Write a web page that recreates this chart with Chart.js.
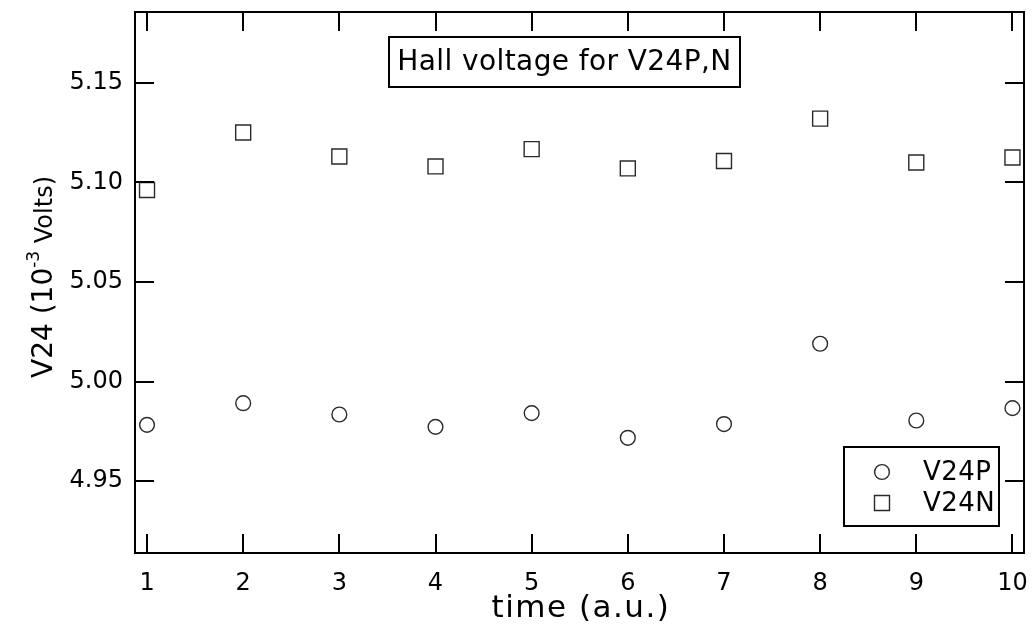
<!DOCTYPE html>
<html>
<head>
<meta charset="utf-8">
<script src="https://cdn.jsdelivr.net/npm/chart.js@4/dist/chart.umd.min.js"></script>
<style>
  html, body { margin: 0; padding: 0; background: #fff; }
  #wrap { width: 1036px; height: 635px; }
</style>
</head>
<body>
<div id="wrap"><canvas id="c" width="1036" height="635"></canvas></div>
<script>
// Measurement index (arbitrary units)
const timePoints = [1, 2, 3, 4, 5, 6, 7, 8, 9, 10];
// Hall voltage, 10^-3 V
const v24p = [4.9783, 4.9892, 4.9835, 4.9773, 4.9842, 4.9718, 4.9787, 5.0190, 4.9805, 4.9867];
const v24n = [5.0962, 5.1250, 5.1130, 5.1080, 5.1167, 5.1070, 5.1107, 5.1320, 5.1100, 5.1125];
const xTickValues = [1, 2, 3, 4, 5, 6, 7, 8, 9, 10];
const yTickValues = [4.95, 5.00, 5.05, 5.10, 5.15];
const seriesNames = ['V24P', 'V24N'];
const chartTitle = 'Hall voltage for V24P,N';
const xTitle = 'time (a.u.)';

const FONT = '"DejaVu Sans", sans-serif';
const INK = '#000';
const MARK = '#2a2a2a';
const R_CIRCLE = 7.4;
const R_RECT = 10.6;

function toPoints(ys) { return timePoints.map((t, i) => ({ x: t, y: ys[i] })); }

function spaced(ctx, px) { if ('letterSpacing' in ctx) ctx.letterSpacing = px + 'px'; }

// Frame, inward ticks on all four sides, title box, legend box, axis titles
const decor = {
  id: 'decor',
  afterDatasetsDraw(chart) {
    const { ctx, chartArea: a, scales } = chart;
    const xs = scales.x, ys = scales.y;
    const tl = 19;
    ctx.save();
    ctx.strokeStyle = INK;
    ctx.lineWidth = 2;
    ctx.beginPath();
    ctx.rect(a.left, a.top, a.right - a.left, a.bottom - a.top);
    xTickValues.forEach(v => {
      const px = Math.round(xs.getPixelForValue(v));
      ctx.moveTo(px, a.bottom); ctx.lineTo(px, a.bottom - tl);
      ctx.moveTo(px, a.top); ctx.lineTo(px, a.top + tl);
    });
    yTickValues.forEach(v => {
      const py = Math.round(ys.getPixelForValue(v));
      ctx.moveTo(a.left, py); ctx.lineTo(a.left + tl, py);
      ctx.moveTo(a.right, py); ctx.lineTo(a.right - tl, py);
    });
    ctx.stroke();

    // Title box
    const bx = 389, by = 37, bw = 351, bh = 50;
    ctx.fillStyle = '#fff';
    ctx.fillRect(bx, by, bw, bh);
    ctx.lineWidth = 2;
    ctx.strokeRect(bx, by, bw, bh);
    ctx.fillStyle = INK;
    ctx.font = '28px ' + FONT;
    spaced(ctx, 0.4);
    ctx.textBaseline = 'middle';
    ctx.textAlign = 'center';
    ctx.fillText(chartTitle, bx + bw / 2, by + bh / 2 + 1);
    spaced(ctx, 0);

    // Legend box
    const lx = 844, ly = 447, lw = 155, lh = 79;
    ctx.fillStyle = '#fff';
    ctx.fillRect(lx, ly, lw, lh);
    ctx.strokeRect(lx, ly, lw, lh);
    const rows = [472, 503];
    chart.data.datasets.forEach((ds, i) => {
      ctx.save();
      ctx.strokeStyle = MARK;
      ctx.fillStyle = 'rgba(0,0,0,0)';
      ctx.lineWidth = 1.4;
      Chart.helpers.drawPoint(ctx, {
        pointStyle: ds.pointStyle,
        radius: ds.pointRadius,
        borderWidth: 1.4
      }, 882, rows[i]);
      ctx.restore();
      ctx.fillStyle = INK;
      ctx.font = '26px ' + FONT;
      spaced(ctx, 0.5);
      ctx.textAlign = 'left';
      ctx.textBaseline = 'middle';
      ctx.fillText(ds.label, 923, rows[i] + 1);
      spaced(ctx, 0);
    });

    // X axis title
    ctx.fillStyle = INK;
    ctx.font = '31px ' + FONT;
    spaced(ctx, 1.5);
    ctx.textAlign = 'center';
    ctx.textBaseline = 'middle';
    ctx.fillText(xTitle, 581, 609);
    spaced(ctx, 0);

    // Y axis title with superscript exponent
    const parts = [
      { t: 'V24 (10', f: '28px ' + FONT, dy: 0 },
      { t: '-3', f: '17px ' + FONT, dy: -13 },
      { t: ' Volts)', f: '24px ' + FONT, dy: 0 }
    ];
    let total = 0;
    parts.forEach(p => { ctx.font = p.f; p.w = ctx.measureText(p.t).width; total += p.w; });
    ctx.translate(52, 277);
    ctx.rotate(-Math.PI / 2);
    ctx.textAlign = 'left';
    ctx.textBaseline = 'alphabetic';
    let cx = -total / 2;
    parts.forEach(p => { ctx.font = p.f; ctx.fillText(p.t, cx, p.dy); cx += p.w; });
    ctx.restore();
  }
};

new Chart(document.getElementById('c'), {
  type: 'scatter',
  data: {
    datasets: [
      { label: seriesNames[0], data: toPoints(v24p), pointStyle: 'circle', pointRadius: R_CIRCLE,
        borderColor: MARK, backgroundColor: 'rgba(0,0,0,0)', borderWidth: 1.4, pointHoverRadius: R_CIRCLE },
      { label: seriesNames[1], data: toPoints(v24n), pointStyle: 'rect', pointRadius: R_RECT,
        borderColor: MARK, backgroundColor: 'rgba(0,0,0,0)', borderWidth: 1.4, pointHoverRadius: R_RECT }
    ]
  },
  options: {
    responsive: false,
    animation: false,
    events: [],
    layout: { padding: { top: 10, right: 11, left: 0, bottom: 0 } },
    plugins: { legend: { display: false }, tooltip: { enabled: false }, title: { display: false } },
    scales: {
      x: {
        type: 'linear', min: 0.875, max: 10.12,
        afterFit(s) { s.height = 82; s.paddingLeft = 0; s.paddingRight = 0; },
        afterBuildTicks(s) { s.ticks = xTickValues.map(v => ({ value: v })); },
        grid: { display: false, drawTicks: false },
        border: { display: false },
        ticks: { color: INK, font: { family: FONT, size: 24 }, padding: 16, maxRotation: 0, autoSkip: false,
                 callback: v => String(v) }
      },
      y: {
        type: 'linear', min: 4.914, max: 5.1855,
        afterFit(s) { s.width = 135; s.paddingTop = 0; s.paddingBottom = 0; },
        afterBuildTicks(s) { s.ticks = yTickValues.map(v => ({ value: v })); },
        grid: { display: false, drawTicks: false },
        border: { display: false },
        ticks: { color: INK, font: { family: FONT, size: 24 }, padding: 12, autoSkip: false,
                 callback: v => v.toFixed(2) }
      }
    }
  },
  plugins: [decor]
});
</script>
</body>
</html>
